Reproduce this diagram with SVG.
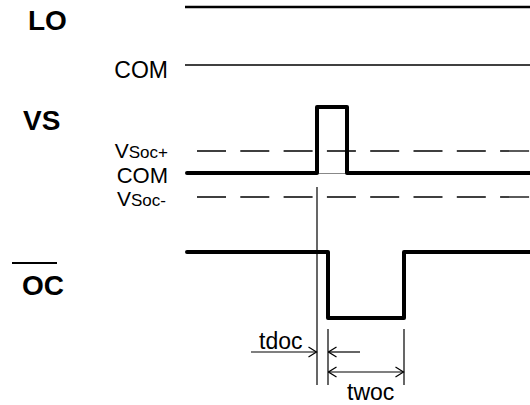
<svg xmlns="http://www.w3.org/2000/svg" width="530" height="405" viewBox="0 0 530 405">
<defs>
<style>
.lbl{font-family:"Liberation Sans",Arial,sans-serif;fill:#000}
.big{font-size:28px;font-weight:bold}
.mid{font-size:23px}
.com2{font-size:22px}
.vs{font-size:21px}
.sm{font-size:17px}
.t{font-size:23px}
.thick{fill:none;stroke:#000;stroke-width:4;stroke-linejoin:round;stroke-linecap:round}
.thin{fill:none;stroke:#000;stroke-width:1.2}
.dash{fill:none;stroke:#000;stroke-width:1.3;stroke-dasharray:29 14.3}
</style>
<marker id="ah" viewBox="0 0 10 12" refX="9" refY="6" markerWidth="10" markerHeight="12" markerUnits="userSpaceOnUse" orient="auto-start-reverse">
<path d="M1,1 L9,6 L1,11" fill="none" stroke="#000" stroke-width="1.2"/>
</marker>
</defs>
<g id="labels">
<text class="lbl big" x="28" y="30">LO</text>
<text class="lbl mid" x="168" y="78" text-anchor="end">COM</text>
<text class="lbl big" x="23" y="130">VS</text>
<text class="lbl vs" x="168" y="158" text-anchor="end">V<tspan class="sm">Soc+</tspan></text>
<text class="lbl com2" x="168" y="183" text-anchor="end">COM</text>
<text class="lbl vs" x="166" y="206" text-anchor="end">V<tspan class="sm">Soc-</tspan></text>
<text class="lbl big" x="22" y="295">OC</text>
<line x1="12" y1="263" x2="57" y2="263" stroke="#000" stroke-width="2.2"/>
<text class="lbl t" x="259" y="349">tdoc</text>
<text class="lbl t" x="347" y="400">twoc</text>
</g>
<g id="waveforms">
<line id="lo" x1="185" y1="7" x2="530" y2="7" stroke="#000" stroke-width="2.7"/>
<line id="com" x1="185" y1="65" x2="530" y2="65" stroke="#000" stroke-width="1.3"/>
<line id="vsoc-plus" class="dash" x1="197" y1="151" x2="530" y2="151"/>
<line id="vsoc-minus" class="dash" x1="197" y1="197" x2="530" y2="197"/>
<line x1="317" y1="173.5" x2="347" y2="173.5" stroke="#888" stroke-width="1"/>
<path id="vs" class="thick" d="M187,173 H317 V107 H347 V173 H532"/>
<path id="oc" class="thick" d="M187,252 H328 V318 H404 V252 H532"/>
</g>
<g id="connectors">
<line class="thin" x1="317" y1="187" x2="317" y2="385"/>
<line class="thin" x1="328" y1="329" x2="328" y2="385"/>
<line class="thin" x1="404" y1="329" x2="404" y2="385"/>
<line class="thin" x1="251" y1="352" x2="316.5" y2="352" marker-end="url(#ah)"/>
<line class="thin" x1="360" y1="352" x2="328.5" y2="352" marker-end="url(#ah)"/>
<line class="thin" x1="328.5" y1="372" x2="403.5" y2="372" marker-start="url(#ah)" marker-end="url(#ah)"/>
</g>
</svg>
